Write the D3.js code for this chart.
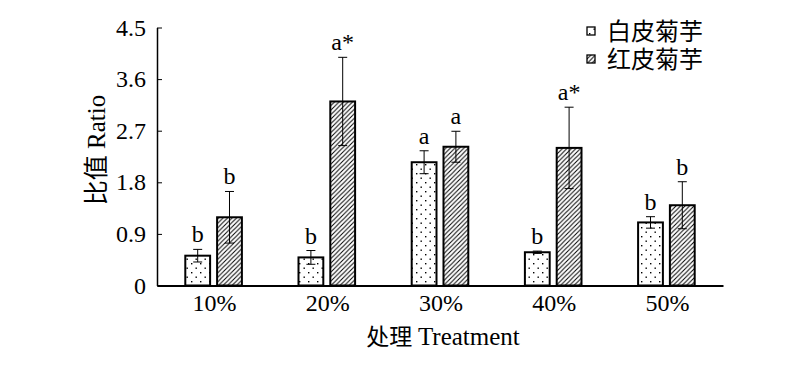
<!DOCTYPE html>
<html><head><meta charset="utf-8">
<script src="https://cdn.jsdelivr.net/npm/d3@7"></script>
<style>body{margin:0;background:#fff}svg{display:block}</style>
</head><body>
<svg id="c" width="800" height="366"></svg>
<script>
const categories = ["10%","20%","30%","40%","50%"];
const seriesNames = ["白皮菊芋","红皮菊芋"];
const whiteMean = [0.52,0.49,2.15,0.58,1.10];
const whiteErr  = [0.11,0.12,0.20,0.02,0.10];
const redMean   = [1.19,3.21,2.42,2.40,1.40];
const redErr    = [0.45,0.77,0.27,0.71,0.41];
const whiteSig  = ["b","b","a","b","b"];
const redSig    = ["b","a*","a","a*","b"];
const yTicks = [0,0.9,1.8,2.7,3.6,4.5];

const serif = "'Liberation Serif','Times New Roman','Noto Sans CJK SC',serif";
const svg = d3.select("#c");
const defs = svg.append("defs");
const dots = defs.append("pattern").attr("id","dots").attr("patternUnits","userSpaceOnUse")
  .attr("width",9).attr("height",9);
dots.append("rect").attr("width",9).attr("height",9).attr("fill","#fff");
dots.append("rect").attr("x",2).attr("y",2).attr("width",1.4).attr("height",1.4).attr("fill","#000");
dots.append("rect").attr("x",6.5).attr("y",6.5).attr("width",1.4).attr("height",1.4).attr("fill","#000");
const hatch = defs.append("pattern").attr("id","hatch").attr("patternUnits","userSpaceOnUse")
  .attr("width",4.5).attr("height",4.5);
hatch.append("rect").attr("width",4.5).attr("height",4.5).attr("fill","#fff");
hatch.append("path").attr("d","M-1,1 L1,-1 M0,4.5 L4.5,0 M3.5,5.5 L5.5,3.5")
  .attr("stroke","#000").attr("stroke-width",1);

const pLeft=157, pRight=723, pTop=27.5, pBottom=285.5;
const x0 = d3.scaleBand().domain(categories).range([pLeft,pRight]).paddingInner(0.5).paddingOuter(0.25);
const x1 = d3.scaleBand().domain(seriesNames).range([0,x0.bandwidth()]).paddingInner(0.22);
const y = d3.scaleLinear().domain([0,4.5]).range([pBottom,pTop]);

const data = [];
categories.forEach((c,i)=>{
  data.push({c, s:seriesNames[0], m:whiteMean[i], e:whiteErr[i], sig:whiteSig[i], fill:"url(#dots)"});
  data.push({c, s:seriesNames[1], m:redMean[i], e:redErr[i], sig:redSig[i], fill:"url(#hatch)"});
});
const cx = d => x0(d.c)+x1(d.s)+x1.bandwidth()/2;

const g = svg.append("g");
g.selectAll("rect.bar").data(data).join("rect").attr("class","bar")
  .attr("x",d=>x0(d.c)+x1(d.s)).attr("width",x1.bandwidth())
  .attr("y",d=>y(d.m)).attr("height",d=>y(0)-y(d.m))
  .attr("fill",d=>d.fill).attr("stroke","#000").attr("stroke-width",2);

const eb = g.selectAll("g.eb").data(data).join("g").attr("class","eb")
  .attr("stroke","#000").attr("stroke-width",1);
eb.append("line").attr("x1",cx).attr("x2",cx)
  .attr("y1",d=>y(d.m-d.e)).attr("y2",d=>y(d.m+d.e));
eb.append("line").attr("x1",d=>cx(d)-4.5).attr("x2",d=>cx(d)+4.5)
  .attr("y1",d=>y(d.m+d.e)).attr("y2",d=>y(d.m+d.e));
eb.append("line").attr("x1",d=>cx(d)-4.5).attr("x2",d=>cx(d)+4.5)
  .attr("y1",d=>y(d.m-d.e)).attr("y2",d=>y(d.m-d.e));

g.selectAll("text.sig").data(data).join("text").attr("class","sig")
  .attr("x",cx).attr("y",d=>y(d.m+d.e)-7)
  .attr("text-anchor","middle").attr("font-family",serif).attr("font-size",24).text(d=>d.sig);

// axes
const yAxis = svg.append("g").attr("transform",`translate(${pLeft},0)`)
  .call(d3.axisLeft(y).tickValues(yTicks).tickSizeInner(-5).tickSizeOuter(0).tickPadding(11).tickFormat(d=>d===0?"0":d3.format(".1f")(d)));
yAxis.select(".domain").attr("stroke-width",1.5);
yAxis.selectAll(".tick line").attr("stroke-width",1);
yAxis.selectAll("text").attr("font-family",serif).attr("font-size",24).attr("fill","#000");

const xAxis = svg.append("g").attr("transform",`translate(0,${pBottom})`)
  .call(d3.axisBottom(x0).tickSize(0).tickPadding(8.5));
xAxis.select(".domain").attr("stroke-width",2);
xAxis.selectAll("text").attr("font-family",serif).attr("font-size",24).attr("fill","#000").attr("dx",1);

const xt = svg.append("text").attr("x",443).attr("y",345).attr("text-anchor","middle")
  .attr("font-family",serif);
xt.append("tspan").attr("font-size",23).text("处理 ");
xt.append("tspan").attr("font-size",25).text("Treatment");
const yt = svg.append("text").attr("transform","translate(105,150) rotate(-90)").attr("text-anchor","middle")
  .attr("font-family",serif);
yt.append("tspan").attr("font-size",25).text("比值 ");
yt.append("tspan").attr("font-size",25).text("Ratio");

// legend
const lg = svg.append("g").selectAll("g").data(seriesNames).join("g")
  .attr("transform",(d,i)=>`translate(587,${31+i*28})`);
lg.append("rect").attr("x",0).attr("y",-4).attr("width",8).attr("height",8)
  .attr("fill",(d,i)=>i===0?"url(#dots)":"url(#hatch)").attr("stroke","#000").attr("stroke-width",1.3);
lg.append("text").attr("x",20).attr("y",9).attr("font-family",serif).attr("font-size",24).text(d=>d);
</script>
</body></html>
